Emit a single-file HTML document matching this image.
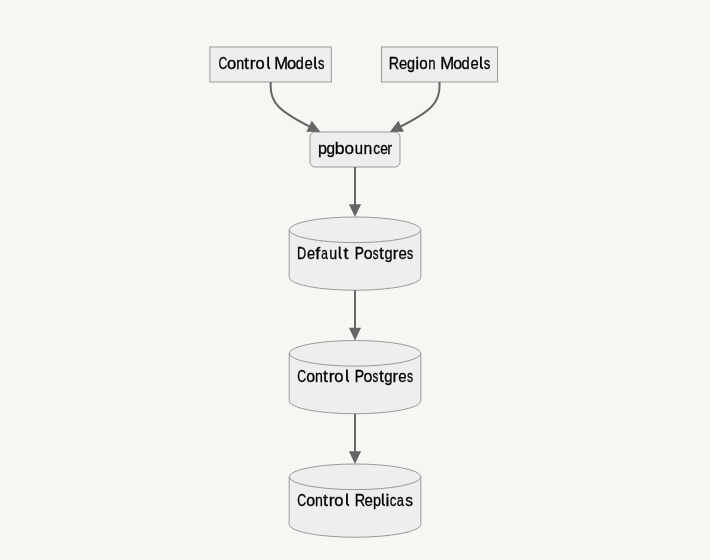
<!DOCTYPE html>
<html><head><meta charset="utf-8"><style>
html,body{margin:0;padding:0;background:#f7f6f3;width:710px;height:560px;overflow:hidden}
svg{display:block;will-change:transform}
text{font-family:"Liberation Sans",sans-serif;font-size:16px;fill:#000000;stroke:#000000;stroke-width:0.3px}
</style></head><body>
<svg width="710" height="560" viewBox="0 0 710 560">
<rect x="209.9" y="47" width="121.5" height="35" fill="#eeeeee" stroke="#999999"/><rect x="381.55" y="47" width="116" height="35" fill="#eeeeee" stroke="#999999"/><rect x="310.0" y="132.0" width="90" height="35" rx="5" fill="#eeeeee" stroke="#999999"/><path d="M289.20,229.82 a65.80,12.82 0 0 0 131.60,0 a65.80,12.82 0 0 0 -131.60,0 l0,47.60 a65.80,12.82 0 0 0 131.60,0 l0,-47.60" fill="#eeeeee" stroke="#999999"/><path d="M289.20,353.32 a65.80,12.82 0 0 0 131.60,0 a65.80,12.82 0 0 0 -131.60,0 l0,47.60 a65.80,12.82 0 0 0 131.60,0 l0,-47.60" fill="#eeeeee" stroke="#999999"/><path d="M289.20,476.82 a65.80,12.82 0 0 0 131.60,0 a65.80,12.82 0 0 0 -131.60,0 l0,47.60 a65.80,12.82 0 0 0 131.60,0 l0,-47.60" fill="#eeeeee" stroke="#999999"/><path d="M270.65,82.00 L270.65,86.17 C270.65,90.33 270.65,98.67 278.94,107.00 C287.23,115.33 303.82,123.67 312.11,127.83 L316.83,130.20" fill="none" stroke="#666666" stroke-width="2"/><path d="M320.40,132.00 L306.31,131.75 L311.79,120.85Z" fill="#666666"/><path d="M439.55,82.00 L439.55,86.17 C439.55,90.33 439.55,98.67 431.26,107.00 C422.97,115.33 406.38,123.67 398.09,127.83 L393.37,130.20" fill="none" stroke="#666666" stroke-width="2"/><path d="M389.80,132.00 L398.41,120.85 L403.89,131.75Z" fill="#666666"/><path d="M355,167.00 L355,213.00" fill="none" stroke="#666666" stroke-width="2"/><path d="M355.00,217.00 L348.90,204.30 L361.10,204.30Z" fill="#666666"/><path d="M355,290.24 L355,336.50" fill="none" stroke="#666666" stroke-width="2"/><path d="M355.00,340.50 L348.90,327.80 L361.10,327.80Z" fill="#666666"/><path d="M355,413.74 L355,460.00" fill="none" stroke="#666666" stroke-width="2"/><path d="M355.00,464.00 L348.90,451.30 L361.10,451.30Z" fill="#666666"/><text transform="translate(218.39,68.80) scale(0.762,1)">C</text><text transform="translate(227.09,68.80) scale(1.036,1)">o</text><text transform="translate(236.16,68.80) scale(0.889,1)">n</text><text transform="translate(244.11,68.80) scale(1.100,1)">t</text><text transform="translate(249.86,68.80) scale(1.075,1)">r</text><text transform="translate(255.59,68.80) scale(1.035,1)">o</text><path d="M268.15,56.70 L268.15,66.20 Q268.15,68.30 270.25,68.50" fill="none" stroke="#000000" stroke-width="1.75"/><text transform="translate(274.30,68.80) scale(1.038,1)">M</text><text transform="translate(287.09,68.80) scale(1.036,1)">o</text><text transform="translate(295.83,68.80) scale(0.905,1)">d</text><text transform="translate(304.40,68.80) scale(0.932,1)">e</text><path d="M315.05,56.70 L315.05,66.20 Q315.05,68.30 317.15,68.50" fill="none" stroke="#000000" stroke-width="1.75"/><text transform="translate(318.06,68.80) scale(0.811,1)">s</text><text transform="translate(388.79,68.70) scale(0.895,1)">R</text><text transform="translate(399.12,68.70) scale(0.919,1)">e</text><text transform="translate(407.05,68.70) scale(0.903,1)">g</text><text transform="translate(415.14,68.70) scale(1.100,1)">i</text><text transform="translate(419.22,68.70) scale(0.950,1)">o</text><text transform="translate(428.37,68.70) scale(0.826,1)">n</text><text transform="translate(440.14,68.70) scale(1.046,1)">M</text><text transform="translate(453.16,68.70) scale(0.997,1)">o</text><text transform="translate(461.60,68.70) scale(0.918,1)">d</text><text transform="translate(470.53,68.70) scale(0.925,1)">e</text><path d="M480.85,56.60 L480.85,66.10 Q480.85,68.20 482.95,68.40" fill="none" stroke="#000000" stroke-width="1.75"/><text transform="translate(483.83,68.70) scale(0.823,1)">s</text><text transform="translate(317.92,153.50) scale(1.015,1)">p</text><text transform="translate(326.52,153.50) scale(0.956,1)">g</text><text transform="translate(334.83,153.50) scale(1.100,1)">b</text><text transform="translate(344.47,153.50) scale(1.068,1)">o</text><text transform="translate(354.83,153.50) scale(0.930,1)">u</text><text transform="translate(363.57,153.50) scale(0.985,1)">n</text><text transform="translate(373.23,153.50) scale(0.853,1)">c</text><text transform="translate(380.19,153.50) scale(0.859,1)">e</text><text transform="translate(387.13,153.50) scale(0.909,1)">r</text><text transform="translate(297.01,258.60) scale(0.794,1)">D</text><text transform="translate(307.12,258.60) scale(0.919,1)">e</text><text transform="translate(315.27,258.60) scale(1.100,1)">f</text><text transform="translate(321.26,258.60) scale(0.749,1)">a</text><text transform="translate(329.29,258.60) scale(0.891,1)">u</text><path d="M339.65,246.50 L339.65,256.00 Q339.65,258.10 341.75,258.30" fill="none" stroke="#000000" stroke-width="1.75"/><text transform="translate(343.58,258.60) scale(1.100,1)">t</text><text transform="translate(354.81,258.60) scale(0.863,1)">P</text><text transform="translate(363.72,258.60) scale(0.997,1)">o</text><text transform="translate(372.83,258.60) scale(0.723,1)">s</text><text transform="translate(379.09,258.60) scale(1.100,1)">t</text><text transform="translate(384.62,258.60) scale(0.910,1)">g</text><text transform="translate(392.69,258.60) scale(1.039,1)">r</text><text transform="translate(398.38,258.60) scale(0.938,1)">e</text><text transform="translate(407.10,258.60) scale(0.776,1)">s</text><text transform="translate(297.15,381.70) scale(0.768,1)">C</text><text transform="translate(306.16,381.70) scale(0.997,1)">o</text><text transform="translate(314.88,381.70) scale(0.887,1)">n</text><text transform="translate(322.89,381.70) scale(1.100,1)">t</text><text transform="translate(328.64,381.70) scale(1.087,1)">r</text><text transform="translate(334.32,381.70) scale(1.038,1)">o</text><path d="M346.95,369.60 L346.95,379.10 Q346.95,381.20 349.05,381.40" fill="none" stroke="#000000" stroke-width="1.75"/><text transform="translate(354.74,381.70) scale(0.878,1)">P</text><text transform="translate(363.58,381.70) scale(0.996,1)">o</text><text transform="translate(372.61,381.70) scale(0.723,1)">s</text><text transform="translate(379.01,381.70) scale(1.100,1)">t</text><text transform="translate(384.21,381.70) scale(0.933,1)">g</text><text transform="translate(392.58,381.70) scale(1.035,1)">r</text><text transform="translate(398.21,381.70) scale(0.936,1)">e</text><text transform="translate(406.97,381.70) scale(0.773,1)">s</text><text transform="translate(297.15,505.70) scale(0.768,1)">C</text><text transform="translate(306.16,505.70) scale(0.997,1)">o</text><text transform="translate(314.88,505.70) scale(0.887,1)">n</text><text transform="translate(322.89,505.70) scale(1.100,1)">t</text><text transform="translate(328.64,505.70) scale(1.087,1)">r</text><text transform="translate(334.32,505.70) scale(1.038,1)">o</text><path d="M346.95,493.60 L346.95,503.10 Q346.95,505.20 349.05,505.40" fill="none" stroke="#000000" stroke-width="1.75"/><text transform="translate(354.80,505.70) scale(0.902,1)">R</text><text transform="translate(364.62,505.70) scale(0.937,1)">e</text><text transform="translate(372.97,505.70) scale(0.902,1)">p</text><path d="M382.75,493.60 L382.75,503.10 Q382.75,505.20 384.85,505.40" fill="none" stroke="#000000" stroke-width="1.75"/><text transform="translate(385.57,505.70) scale(1.100,1)">i</text><text transform="translate(389.86,505.70) scale(0.835,1)">c</text><text transform="translate(396.69,505.70) scale(0.814,1)">a</text><text transform="translate(405.15,505.70) scale(0.963,1)">s</text>
</svg>
</body></html>
